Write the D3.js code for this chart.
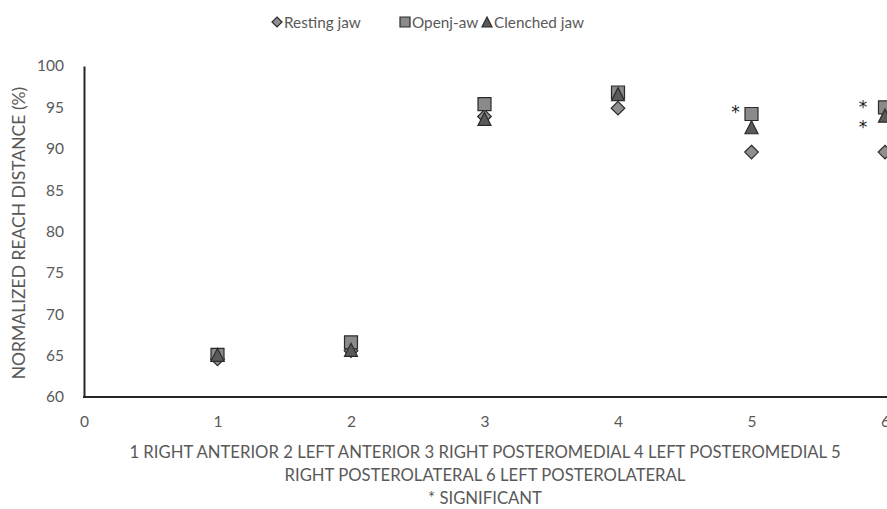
<!DOCTYPE html>
<html><head><meta charset="utf-8">
<script src="https://cdn.jsdelivr.net/npm/d3@7"></script>
<style>body{margin:0;background:#fff;} svg{display:block;} text{font-family:Lato, "Open Sans", sans-serif; fill:#595959;}</style>
</head><body><svg id="c" width="887" height="509"></svg>
<script>
const positions = [1, 2, 3, 4, 5, 6];
const seriesNames = ["Resting jaw", "Openj-aw", "Clenched jaw"];
const resting = [64.6, 65.6, 93.9, 94.9, 89.6, 89.6];
const openJaw = [65.1, 66.6, 95.4, 96.8, 94.2, 95.0];
const clenched = [65.1, 65.7, 93.6, 96.6, 92.6, 94.0];
const yTicks = [60, 65, 70, 75, 80, 85, 90, 95, 100];
const xTicks = [0, 1, 2, 3, 4, 5, 6];
const sigMarks = [{x: 5, y: 94.9, dx: -16}, {x: 6, y: 95.5, dx: -22}, {x: 6, y: 93.1, dx: -22}];
const xTitleLines = ["1 RIGHT ANTERIOR 2 LEFT ANTERIOR 3 RIGHT POSTEROMEDIAL 4 LEFT POSTEROMEDIAL 5", "RIGHT POSTEROLATERAL 6 LEFT POSTEROLATERAL", "* SIGNIFICANT"];
const yTitle = "NORMALIZED REACH DISTANCE (%)";

const svg = d3.select("#c");
const x = d3.scaleLinear().domain([0, 6]).range([84, 885]);
const y = d3.scaleLinear().domain([60, 100]).range([397, 66]);

// axes
const yAxis = d3.axisLeft(y).tickValues(yTicks).tickSize(0).tickPadding(20).tickFormat(d3.format("d"));
const gy = svg.append("g").attr("transform", "translate(84,0)").call(yAxis);
gy.select(".domain").attr("stroke", "#262626").attr("stroke-width", 2);
gy.selectAll("text").style("font-size", "15.5px").attr("fill", "#595959").style("font-family", "Lato, sans-serif");

const xAxis = d3.axisBottom(x).tickValues(xTicks).tickSize(0).tickPadding(19).tickFormat(d3.format("d"));
const gx = svg.append("g").attr("transform", "translate(0,397)").call(xAxis);
gx.select(".domain").attr("stroke", "#262626").attr("stroke-width", 2).attr("d", "M83,0H887");
gx.selectAll("text").style("font-size", "15.5px").attr("fill", "#595959").style("font-family", "Lato, sans-serif");

// titles
svg.append("text").attr("transform", "translate(18,233) rotate(-90)").attr("text-anchor", "middle")
  .attr("dominant-baseline", "central").style("font-size", "17.5px").text(yTitle);
xTitleLines.forEach((t, i) => {
  svg.append("text").attr("x", 485).attr("y", 452 + i * 23).attr("text-anchor", "middle")
    .attr("dominant-baseline", "central").style("font-size", "16.7px").text(t);
});

// markers
const stroke = "#2b2b2b";
const sym = {
  diamond: (s) => `M0,${-s}L${s},0L0,${s}L${-s},0Z`,
  square: (s) => `M${-s},${-s}H${s}V${s}H${-s}Z`,
  triangle: (s) => `M0,${-s}L${s},${s}H${-s}Z`
};
const series = [
  {name: seriesNames[0], vals: resting, shape: "diamond", size: 6.8, fill: "#8f8f8f"},
  {name: seriesNames[1], vals: openJaw, shape: "square", size: 6.5, fill: "#8a8a8a"},
  {name: seriesNames[2], vals: clenched, shape: "triangle", size: 6.5, fill: "#5a5a5a"}
];
series.forEach(s => {
  svg.append("g").selectAll("path").data(s.vals).join("path")
    .attr("transform", (d, i) => `translate(${x(positions[i])},${y(d)})`)
    .attr("d", sym[s.shape](s.size)).attr("fill", s.fill).attr("stroke", stroke).attr("stroke-width", 1.2);
});

// significance asterisks
svg.append("g").selectAll("text").data(sigMarks).join("text")
  .attr("x", d => x(d.x) + d.dx).attr("y", d => y(d.y) + 4).attr("text-anchor", "middle")
  .attr("dominant-baseline", "central").style("font-family", "'DejaVu Sans', sans-serif")
  .style("font-size", "17px").style("fill", "#1a1a1a").text("*");

// legend
const legendItems = [
  {shape: "diamond", fill: "#8f8f8f", cx: 277, tx: 284, size: 5},
  {shape: "square", fill: "#8a8a8a", cx: 405, tx: 412, size: 5},
  {shape: "triangle", fill: "#5a5a5a", cx: 487, tx: 494, size: 5}
];
legendItems.forEach((l, i) => {
  svg.append("path").attr("transform", `translate(${l.cx},22)`).attr("d", sym[l.shape](l.size))
    .attr("fill", l.fill).attr("stroke", stroke).attr("stroke-width", 1.2);
  svg.append("text").attr("x", l.tx).attr("y", 22).attr("dominant-baseline", "central")
    .style("font-size", "15.3px").text(seriesNames[i]);
});
</script></body></html>
